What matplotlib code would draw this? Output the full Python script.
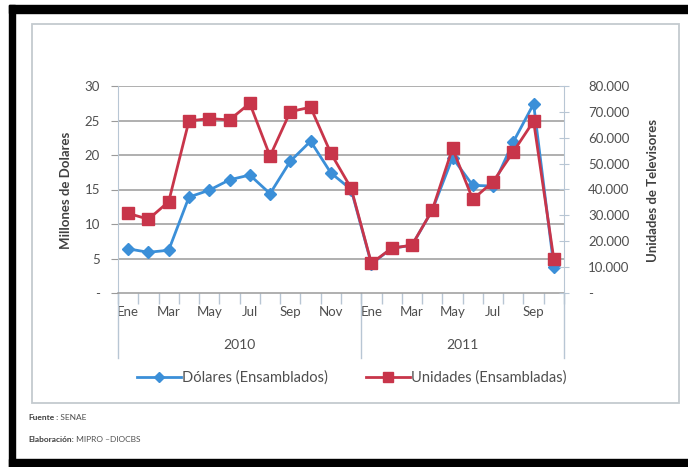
import matplotlib
matplotlib.use("Agg")
import matplotlib.pyplot as plt
import matplotlib.ticker as tick
import matplotlib.transforms as mtrans
from matplotlib.patches import Rectangle
from matplotlib.lines import Line2D

plt.rcParams['font.family'] = ['Lato', 'DejaVu Sans']

# Datos mensuales ene-2010 a oct-2011
meses = ['Ene', 'Feb', 'Mar', 'Abr', 'May', 'Jun', 'Jul', 'Ago', 'Sep', 'Oct', 'Nov', 'Dic',
         'Ene', 'Feb', 'Mar', 'Abr', 'May', 'Jun', 'Jul', 'Ago', 'Sep', 'Oct']
anios = ['2010', '2011']
dolares = [6.4, 5.9, 6.2, 13.9, 14.9, 16.4, 17.1, 14.4, 19.1, 22.0, 17.4, 15.0,
           4.2, 6.5, 6.9, 12.0, 19.6, 15.6, 15.5, 21.9, 27.4, 3.8]
unidades = [30800, 28500, 35300, 66500, 67400, 66900, 73300, 52900, 70100, 71800, 54000, 40500,
            11500, 17300, 18500, 32000, 55900, 36200, 43000, 54600, 66400, 13000]

W, H = 688, 467
fig = plt.figure(figsize=(W / 100, H / 100), dpi=100)
fig.patch.set_facecolor('white')

def fx(px):
    return px / W

def fy(py):
    return 1 - py / H

# marco negro del recorte
for x0, y0, x1, y1 in [(9, 5, 688, 13), (9, 5, 15, 467), (9, 459, 688, 467)]:
    fig.patches.append(Rectangle((fx(x0), fy(y1)), fx(x1) - fx(x0), fy(y0) - fy(y1),
                                 transform=fig.transFigure, color='black', zorder=0))
# borde del area del grafico
fig.patches.append(Rectangle((fx(32), fy(403)), fx(679) - fx(32), fy(24) - fy(403),
                             transform=fig.transFigure, facecolor='white',
                             edgecolor='#c4cacf', lw=1.3, zorder=0))

ax = fig.add_axes([fx(118), fy(293), fx(564) - fx(118), fy(86) - fy(293)])
ax2 = ax.twinx()
ax.set_zorder(1)
ax2.set_zorder(2)
ax.patch.set_visible(False)
ax2.patch.set_visible(False)

x = list(range(len(meses)))
azul = '#3b8fd8'
rojo = '#c8354a'
grid_c = '#9a9a9a'
axis_c = '#b8c6d4'
txt_c = '#4f4f4f'

ax.plot(x, dolares, color=azul, lw=2.0, marker='D', ms=6, zorder=3)
ax2.plot(x, unidades, color=rojo, lw=2.0, marker='s', ms=8.5, zorder=3)

ax.set_xlim(-0.5, len(meses) - 0.5)
ax.set_ylim(0, 30)
ax2.set_ylim(0, 80000)

ax.set_yticks(range(0, 31, 5))
ax2.set_yticks(range(0, 80001, 10000))
ax.yaxis.set_major_formatter(tick.FuncFormatter(lambda v, p: '-' if v == 0 else '%d' % v))
ax2.yaxis.set_major_formatter(tick.FuncFormatter(
    lambda v, p: '-' if v == 0 else '{:,.0f}'.format(v).replace(',', '.')))

for v in range(5, 31, 5):
    ax.axhline(v, color=grid_c, lw=1.1, zorder=1)

for a in (ax, ax2):
    for s in a.spines.values():
        s.set_visible(False)

ax.spines['left'].set_visible(True)
ax.spines['left'].set_color(axis_c)
ax.spines['bottom'].set_visible(True)
ax.spines['bottom'].set_color(grid_c)
ax.spines['bottom'].set_linewidth(1.1)
ax2.spines['right'].set_visible(True)
ax2.spines['right'].set_color(axis_c)

ax.tick_params(axis='y', length=5, color=grid_c, labelsize=9.5, labelcolor=txt_c, pad=8)
ax2.tick_params(axis='y', direction='inout', length=7, color=axis_c, labelsize=9.5,
                labelcolor=txt_c, pad=14)

# eje de categorias: marcas entre meses, etiquetas cada dos meses
ax.set_xticks(x[::2])
ax.set_xticklabels(meses[::2])
ax.set_xticks([i - 0.5 for i in range(len(meses) + 1)], minor=True)
ax.tick_params(axis='x', which='major', length=0, labelsize=9.5, labelcolor=txt_c, pad=9)
ax.tick_params(axis='x', which='minor', length=8, color=axis_c, width=1.0)

trans = mtrans.blended_transform_factory(ax.transData, ax.transAxes)
for xb in (-0.5, 11.5, len(meses) - 0.5):
    ax.add_line(Line2D([xb, xb], [0, -0.315], transform=trans, color=axis_c,
                       lw=1.0, clip_on=False))
ax.text(5.5, -0.25, anios[0], transform=trans, ha='center', va='center',
        fontsize=10, color=txt_c)
ax.text(16.5, -0.25, anios[1], transform=trans, ha='center', va='center',
        fontsize=10, color=txt_c)

fig.text(fx(66), fy(190), 'Millones de Dolares', rotation=90, ha='center', va='center',
         fontsize=9.5, fontweight='bold', color='#404040')
fig.text(fx(653), fy(190), 'Unidades de Televisores', rotation=90, ha='center', va='center',
         fontsize=9.5, fontweight='bold', color='#404040')

handles = [Line2D([], [], color=azul, lw=2.0, marker='D', ms=5),
           Line2D([], [], color=rojo, lw=2.0, marker='s', ms=7)]
fig.legend(handles, ['Dólares (Ensamblados)', 'Unidades (Ensambladas)'],
           loc='center', bbox_to_anchor=(fx(352), fy(378)), ncol=2, frameon=False,
           fontsize=10.5, handlelength=3.0, handletextpad=0.1, columnspacing=2.6,
           labelcolor=txt_c)

# pie de fuente
f1 = fig.text(fx(28), fy(418), 'Fuente', fontsize=6, fontweight='bold', color='#404040',
              va='center')
ax.annotate(' : SENAE', xy=(1, 0.5), xycoords=f1, va='center', fontsize=6, color='#505050',
            annotation_clip=False)
f2 = fig.text(fx(28), fy(440), 'Elaboración:', fontsize=6, fontweight='bold', color='#404040',
              va='center')
ax.annotate(' MIPRO –DIOCBS', xy=(1, 0.5), xycoords=f2, va='center', fontsize=6,
            color='#505050', annotation_clip=False)

fig.savefig('out.png', dpi=100)
